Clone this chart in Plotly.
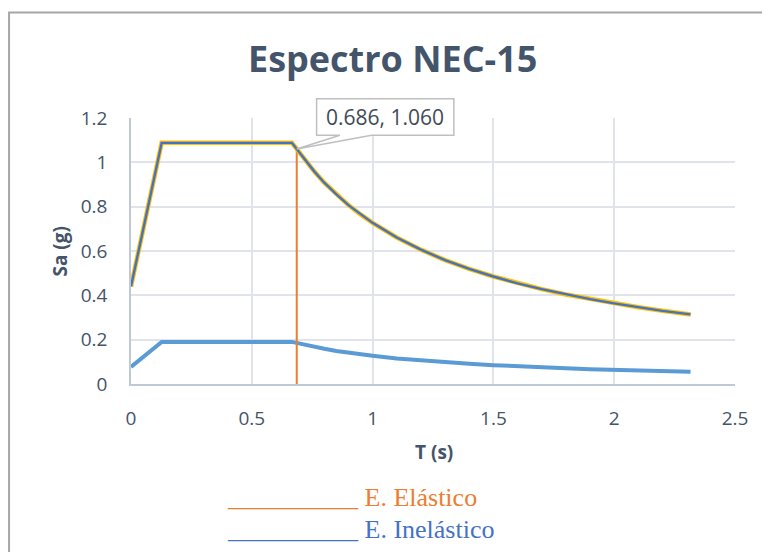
import plotly.graph_objects as go

# Data
T = [0, 0.127, 0.666, 0.686, 0.72, 0.76, 0.8, 0.85, 0.9, 0.95, 1.0, 1.1, 1.2, 1.3, 1.4,
     1.5, 1.6, 1.7, 1.8, 1.9, 2.0, 2.1, 2.2, 2.316]
sa_elastico = [0.44, 1.088, 1.088, 1.060, 1.010, 0.957, 0.908, 0.855, 0.807, 0.765, 0.727,
               0.661, 0.606, 0.559, 0.519, 0.485, 0.454, 0.428, 0.404, 0.383, 0.364, 0.346,
               0.330, 0.314]
sa_inelastico = [0.077, 0.190, 0.190, 0.185, 0.176, 0.167, 0.159, 0.149, 0.141, 0.134,
                 0.127, 0.115, 0.106, 0.098, 0.091, 0.085, 0.079, 0.075, 0.071, 0.067,
                 0.064, 0.060, 0.058, 0.055]
t_c = 0.686
sa_c = 1.060
x_ticks = [0, 0.5, 1, 1.5, 2, 2.5]
y_ticks = [0, 0.2, 0.4, 0.6, 0.8, 1.0, 1.2]

TXT = "#44546A"
FONT = "Open Sans"

fig = go.Figure()
fig.add_trace(go.Scatter(x=T, y=sa_inelastico, mode="lines",
                         line=dict(color="#5B9BD5", width=4), hoverinfo="skip"))
fig.add_trace(go.Scatter(x=[t_c, t_c], y=[0, sa_c], mode="lines",
                         line=dict(color="#ED7D31", width=2), hoverinfo="skip"))
fig.add_trace(go.Scatter(x=T, y=sa_elastico, mode="lines",
                         line=dict(color="#FFC000", width=4.5), hoverinfo="skip"))
fig.add_trace(go.Scatter(x=T, y=sa_elastico, mode="lines",
                         line=dict(color="#4472C4", width=2.4), hoverinfo="skip"))

X0, X1 = 0, 2.5
Y0, Y1 = 0, 1.2

fig.update_layout(
    width=770, height=552,
    margin=dict(l=123, r=43, t=110, b=176),
    paper_bgcolor="white", plot_bgcolor="white",
    showlegend=False,
    font=dict(family=FONT, color=TXT, size=18),
    xaxis=dict(range=[X0, X1], tickvals=x_ticks, showgrid=True, gridcolor="#E0E3E9",
               gridwidth=1.5, zeroline=False, showline=True, linecolor="#BFC8D5",
               linewidth=1.5, ticks="outside", ticklen=16, tickcolor="rgba(0,0,0,0)",
               tickfont=dict(size=19, color=TXT, family=FONT)),
    yaxis=dict(range=[Y0, Y1], tickvals=y_ticks, showgrid=True, gridcolor="#E0E3E9",
               gridwidth=1.5, zeroline=False, showline=True, linecolor="#BFC8D5",
               linewidth=1.5, ticks="outside", ticklen=18, tickcolor="rgba(0,0,0,0)",
               tickfont=dict(size=19, color=TXT, family=FONT)),
)

# outer chart border
fig.add_shape(type="rect", xref="paper", yref="paper",
              x0=-0.2019, y0=-0.70, x1=1.08, y1=1.3969,
              line=dict(color="#A6A6A6", width=2), fillcolor="rgba(0,0,0,0)", layer="below")

# callout box with wedge
px = (t_c - X0) / (X1 - X0)
py = (sa_c - Y0) / (Y1 - Y0)
bl, br, bt, bb = 0.3073, 0.5345, 1.0722, 0.9353
w1, w2 = 0.3459, 0.3983
path = (f"M {bl},{bt} L {br},{bt} L {br},{bb} L {w2},{bb} L {px},{py} "
        f"L {w1},{bb} L {bl},{bb} Z")
fig.add_shape(type="path", xref="paper", yref="paper", path=path,
              line=dict(color="#BFBFBF", width=1.5), fillcolor="white", layer="above")

ann = [
    dict(text="<b>Espectro NEC-15</b>", x=0.4336, y=1.222, font=dict(size=36, color=TXT)),
    dict(text="<b>Sa (g)</b>", x=-0.1175, y=0.498, textangle=-90, font=dict(size=19, color=TXT)),
    dict(text="<b>T (s)</b>", x=0.501, y=-0.2547, font=dict(size=19, color=TXT)),
    dict(text=f"{t_c:.3f}, {sa_c:.3f}", x=(bl + br) / 2, y=(bt + bb) / 2,
         font=dict(size=21, color="#404B57")),
    dict(text="__________ E. Elástico", x=0.1555, y=-0.428, xanchor="left",
         font=dict(size=26, color="#ED7D31", family="Liberation Serif")),
    dict(text="__________ E. Inelástico", x=0.1555, y=-0.548, xanchor="left",
         font=dict(size=26, color="#4472C4", family="Liberation Serif")),
]
for a in ann:
    a.setdefault("xanchor", "center")
    a.update(xref="paper", yref="paper", yanchor="middle", showarrow=False)
    if "family" not in a["font"]:
        a["font"]["family"] = FONT
    fig.add_annotation(**a)

fig.write_html("out.html")
